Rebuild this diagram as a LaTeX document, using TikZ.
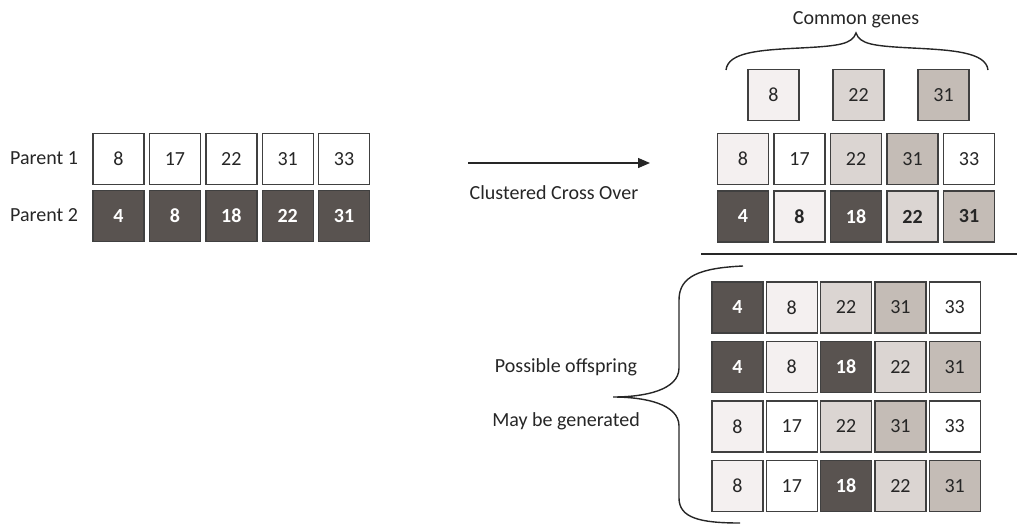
\documentclass[tikz,border=0pt]{standalone}
\usepackage{fontspec}
\setmainfont{Carlito}
\usetikzlibrary{arrows.meta}
\definecolor{gdarkc}{RGB}{89,83,80}
\definecolor{gpalec}{RGB}{244,240,240}
\definecolor{glightc}{RGB}{219,213,210}
\definecolor{gmidc}{RGB}{196,188,182}
\definecolor{boxline}{RGB}{64,64,64}
\definecolor{inkc}{RGB}{38,38,38}
\tikzset{
  gene/.style={draw=boxline, line width=1.4pt, minimum width=51pt, minimum height=51pt,
    inner sep=0pt, text=inkc, font=\fontsize{20}{22}\selectfont},
  gdark/.style={fill=gdarkc, text=white, font=\fontsize{20}{22}\selectfont\bfseries},
  gwhite/.style={fill=white},
  gpale/.style={fill=gpalec},
  glight/.style={fill=glightc},
  gmid/.style={fill=gmidc},
  gpaleb/.style={fill=gpalec, font=\fontsize{20}{22}\selectfont\bfseries},
  glightb/.style={fill=glightc, font=\fontsize{20}{22}\selectfont\bfseries},
  gmidb/.style={fill=gmidc, font=\fontsize{20}{22}\selectfont\bfseries},
  label/.style={text=inkc, inner sep=0pt, font=\fontsize{20}{24}\selectfont},
  bracepath/.style={draw=inkc, line width=1.4pt},
}
\begin{document}
\begin{tikzpicture}[x=1pt,y=-1pt]
\useasboundingbox (0,0) rectangle (1017,525);

% parents
\node[label] (lp1) at (44,158) {Parent 1};
\node[label] (lp2) at (44,215) {Parent 2};
\foreach \v/\s [count=\i] in {8/gwhite,17/gwhite,22/gwhite,31/gwhite,33/gwhite}
  \node[gene,\s] (pa-\i) at ({118.5+(\i-1)*56.4},159) {\v};
\foreach \v/\s [count=\i] in {4/gdark,8/gdark,18/gdark,22/gdark,31/gdark}
  \node[gene,\s] (pb-\i) at ({118.5+(\i-1)*56.4},216) {\v};

% crossover arrow
\coordinate (arrS) at (468,163);
\coordinate (arrE) at (650,163);
\draw[draw=inkc, line width=1.3pt, -{Triangle[length=12pt,width=10pt]}] (arrS) -- (arrE);
\node[label] (ccl) at (554,193) {Clustered Cross Over};

% common genes
\node[label] (cgl) at (856,20) {Common genes};
\draw[bracepath] (726,70) .. controls (728,52) and (760,50) .. (800,48)
  .. controls (840,46) and (852,44) .. (856,33)
  .. controls (860,44) and (872,46) .. (912,48)
  .. controls (952,50) and (986,52) .. (988,70);
\node[gene,gpale]  (cg-1) at (773.5,95) {8};
\node[gene,glight] (cg-2) at (858.5,95) {22};
\node[gene,gmid]   (cg-3) at (943.5,95) {31};

% parents with common genes marked
\foreach \v/\s [count=\i] in {8/gpale,17/gwhite,22/glight,31/gmid,33/gwhite}
  \node[gene,\s] (ma-\i) at ({743+(\i-1)*56.5},159) {\v};
\foreach \v/\s [count=\i] in {4/gdark,8/gpaleb,18/gdark,22/glightb,31/gmidb}
  \node[gene,\s] (mb-\i) at ({743+(\i-1)*56.5},216.5) {\v};

% separator
\coordinate (sepL) at (701,254);
\coordinate (sepR) at (1017,254);
\draw[draw=inkc, line width=1.3pt] (sepL) -- (sepR);

% offspring
\draw[bracepath] (743,266) .. controls (700,268) and (679,276) .. (679,300) -- (679,368)
  .. controls (679,390) and (645,397) .. (613,397)
  .. controls (645,397) and (679,404) .. (679,426) -- (679,498)
  .. controls (679,518) and (700,523) .. (740,523);
\node[label] (ofl1) at (566,367) {Possible offspring};
\node[label] (ofl2) at (566,421) {May be generated};
\foreach \v/\s [count=\i] in {4/gdark,8/gpale,22/glight,31/gmid,33/gwhite}
  \node[gene,\s] (oa-\i) at ({737.5+(\i-1)*54.3},307.5) {\v};
\foreach \v/\s [count=\i] in {4/gdark,8/gpale,18/gdark,22/glight,31/gmid}
  \node[gene,\s] (ob-\i) at ({737.5+(\i-1)*54.3},367) {\v};
\foreach \v/\s [count=\i] in {8/gpale,17/gwhite,22/glight,31/gmid,33/gwhite}
  \node[gene,\s] (oc-\i) at ({737.5+(\i-1)*54.3},426.5) {\v};
\foreach \v/\s [count=\i] in {8/gpale,17/gwhite,18/gdark,22/glight,31/gmid}
  \node[gene,\s] (od-\i) at ({737.5+(\i-1)*54.3},486) {\v};
\end{tikzpicture}
\end{document}
